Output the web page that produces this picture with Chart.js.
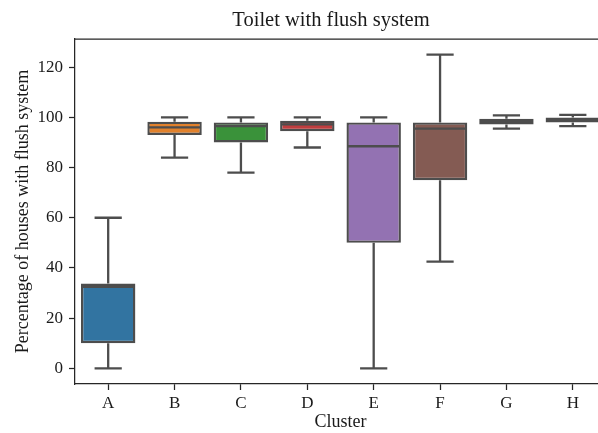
<!DOCTYPE html>
<html>
<head>
<meta charset="utf-8">
<script src="https://cdn.jsdelivr.net/npm/chart.js@4.4.1/dist/chart.umd.min.js"></script>
<style>
  html, body { margin: 0; padding: 0; background: #fff; overflow: hidden; }
  #frame { width: 598px; height: 433px; overflow: hidden; position: relative; }
  #wrap { width: 614px; height: 433px; position: absolute; left: 0; top: 0; }
</style>
</head>
<body>
<div id="frame"><div id="wrap"><canvas id="c"></canvas></div></div>
<script>
// Box-plot summary per cluster: whisker ends, quartiles and median (%)
const clusters = ['A', 'B', 'C', 'D', 'E', 'F', 'G', 'H'];
const whiskerLow  = [0,    84,   78,   88,   0,    42.5, 95.5, 96.5];
const quartile1   = [10,   93,   90,   94.5, 50,   75,   97.2, 98];
const medians     = [32.5, 96,   96.5, 97.2, 88.5, 95.5, 98.5, 99];
const quartile3   = [33.8, 98.3, 98,   98.7, 98,   98,   99.5, 100];
const whiskerHigh = [60,   100,  100,  100,  100,  125,  100.8, 101];
const yTicks = [0, 20, 40, 60, 80, 100, 120];

const boxColors = ['#3274a1', '#e1812c', '#3a923a', '#c03d3e', '#9372b2', '#845b53', '#d684bd', '#7f7f7f'];
const lineColor = '#4d4d4d';
const serif = '"Liberation Serif", "Times New Roman", serif';

// Whiskers, caps, medians, top/right spines and the chart title
const boxExtras = {
  id: 'boxExtras',
  beforeDatasetsDraw(chart) {
    const { ctx, scales: { x, y } } = chart;
    const meta = chart.getDatasetMeta(0);
    ctx.save();
    ctx.strokeStyle = lineColor;
    ctx.lineWidth = 2.3;
    clusters.forEach((_, i) => {
      const cx = x.getPixelForValue(i);
      const half = meta.data[i].width / 4;
      const segs = [[quartile3[i], whiskerHigh[i]], [quartile1[i], whiskerLow[i]]];
      segs.forEach(([from, to]) => {
        const y0 = y.getPixelForValue(from);
        const y1 = y.getPixelForValue(to);
        ctx.beginPath();
        ctx.moveTo(cx, y0);
        ctx.lineTo(cx, y1);
        ctx.moveTo(cx - half, y1);
        ctx.lineTo(cx + half, y1);
        ctx.stroke();
      });
    });
    ctx.restore();
  },
  afterDatasetsDraw(chart) {
    const { ctx, chartArea, scales: { x, y } } = chart;
    const meta = chart.getDatasetMeta(0);
    ctx.save();
    ctx.strokeStyle = lineColor;
    ctx.lineWidth = 2.3;
    clusters.forEach((_, i) => {
      const cx = x.getPixelForValue(i);
      const half = meta.data[i].width / 2 - 1;
      const my = y.getPixelForValue(medians[i]);
      ctx.beginPath();
      ctx.moveTo(cx - half, my);
      ctx.lineTo(cx + half, my);
      ctx.stroke();
    });
    ctx.strokeStyle = '#262626';
    ctx.lineWidth = 1.25;
    ctx.beginPath();
    ctx.moveTo(chartArea.left, chartArea.top);
    ctx.lineTo(chartArea.right, chartArea.top);
    ctx.lineTo(chartArea.right, chartArea.bottom);
    ctx.stroke();
    ctx.fillStyle = '#1a1a1a';
    ctx.font = '20.5px ' + serif;
    ctx.textAlign = 'center';
    ctx.textBaseline = 'alphabetic';
    ctx.fillText('Toilet with flush system', 331, 26);
    ctx.restore();
  }
};

new Chart(document.getElementById('c'), {
  type: 'bar',
  data: {
    labels: clusters,
    datasets: [{
      data: clusters.map((_, i) => [quartile1[i], quartile3[i]]),
      backgroundColor: boxColors,
      borderColor: lineColor,
      borderWidth: 2.4,
      borderSkipped: false,
      categoryPercentage: 0.82,
      barPercentage: 1.0
    }]
  },
  options: {
    responsive: true,
    maintainAspectRatio: false,
    animation: false,
    layout: { padding: { top: 39, right: 8, bottom: 0, left: 0 } },
    plugins: { legend: { display: false }, tooltip: { enabled: false }, title: { display: false } },
    scales: {
      x: {
        afterFit(scale) { scale.height = 49; },
        grid: { display: true, drawOnChartArea: false, offset: false, tickLength: 6, tickColor: '#262626', tickWidth: 1.25 },
        border: { display: true, color: '#262626', width: 1.25 },
        ticks: { color: '#1a1a1a', font: { family: serif, size: 17 }, padding: 3 },
        title: { display: true, text: 'Cluster', color: '#1a1a1a', font: { family: serif, size: 18 }, padding: { top: 0, bottom: 0 } }
      },
      y: {
        min: -6.25,
        max: 131.25,
        afterFit(scale) { scale.width = 75; },
        afterBuildTicks(scale) { scale.ticks = yTicks.map(v => ({ value: v })); },
        grid: { display: true, drawOnChartArea: false, tickLength: 6, tickColor: '#262626', tickWidth: 1.25 },
        border: { display: true, color: '#262626', width: 1.25 },
        ticks: { color: '#1a1a1a', font: { family: serif, size: 17 }, padding: 6 },
        title: { display: true, text: 'Percentage of houses with flush system', color: '#1a1a1a', font: { family: serif, size: 18 }, padding: { top: 12, bottom: 0 } }
      }
    }
  },
  plugins: [boxExtras]
});
</script>
</body>
</html>
